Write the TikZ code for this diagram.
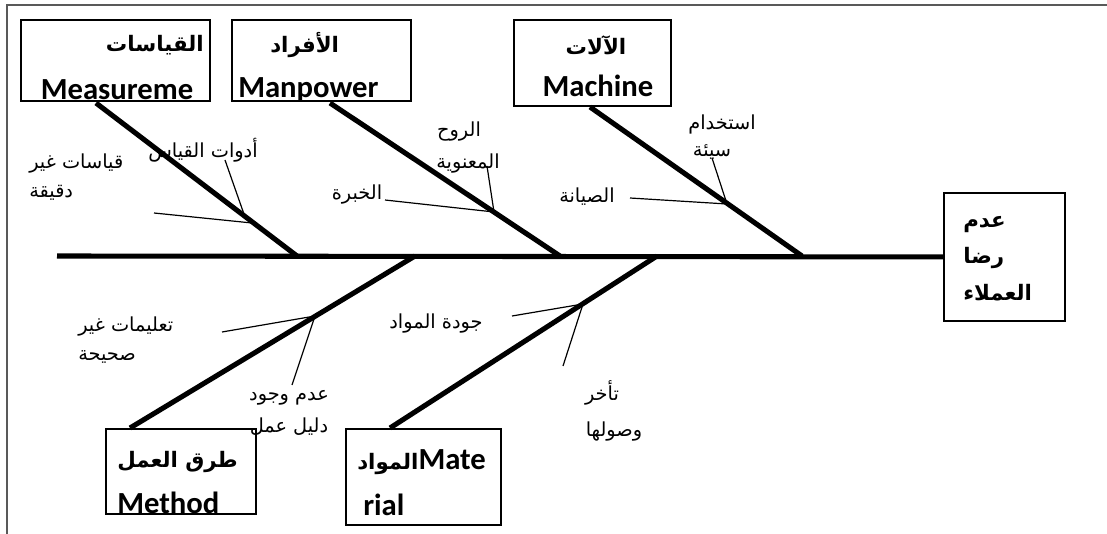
\documentclass[tikz,border=0pt]{standalone}
\usepackage{fontspec}
\setmainfont{Liberation Sans}
\newfontfamily\arabicfont[Script=Arabic]{DejaVu Sans}
\newfontfamily\latinfont{Carlito}
\TeXXeTstate=1
\newcommand{\ar}[1]{{\arabicfont\beginR #1\endR}}

\begin{document}
\begin{tikzpicture}[x=0.75pt,y=-0.75pt,
    box/.style={draw,line width=1.4pt,inner sep=0pt,anchor=north west},
    bone/.style={line width=3.8pt},
    twig/.style={line width=0.9pt},
    lbl/.style={font=\fontsize{14.5}{16}\selectfont,inner sep=0pt},
    head/.style={font=\fontsize{16}{18}\selectfont\bfseries,inner sep=0pt},
    en/.style={font=\fontsize{23}{26}\latinfont\bfseries,inner sep=0pt}]
    \useasboundingbox (0,0) rectangle (1107,534);
    \draw[line width=1.4pt,black!65] (7,534) -- (7,5) -- (1107,5);

    % boxes
    \node[box,minimum width=141.75pt,minimum height=60.75pt] (meas) at (20,19) {};
    \node[box,minimum width=134.25pt,minimum height=60.75pt] (man) at (231,19) {};
    \node[box,minimum width=117.75pt,minimum height=64.5pt] (mach) at (513,19) {};
    \node[box,minimum width=90.75pt,minimum height=96pt] (effect) at (943,192) {};
    \node[box,minimum width=112.5pt,minimum height=63.75pt] (meth) at (105,428) {};
    \node[box,minimum width=116.25pt,minimum height=72pt] (mat) at (345,428) {};

    % box texts
    \node[head,anchor=east] (measar) at (204,45) {\ar{القياسات}};
    \node[head,anchor=west] (manar) at (270,45) {\ar{الأفراد}};
    \node[head] (machar) at (596,45) {\ar{الآلات}};
    \node[en] (machen) at (598,86) {Machine};
    \begin{scope}
        \clip (meas.south west) rectangle (man.north east);
        \node[en] (measen) at (117,90) {Measureme};
        \node[en,anchor=west] (manen) at (238,90) {Manpower};
    \end{scope}
    \node[head,anchor=west] (effa) at (963,225) {\ar{عدم}};
    \node[head,anchor=west] (effb) at (963,258) {\ar{رضا}};
    \node[head,anchor=west] (effc) at (963,293) {\ar{العملاء}};
    \node[head,anchor=west] (methar) at (117,462) {\ar{طرق العمل}};
    \begin{scope}
        \clip (meth.south west) rectangle (meth.north east);
        \node[en,anchor=west] (methen) at (117,503) {Method};
    \end{scope}
    \node[en,anchor=west] (matar) at (357,462) {{\arabicfont\fontsize{16}{18}\selectfont\beginR المواد\endR}Mate};
    \node[en,anchor=west] (maten) at (363,505) {rial};

    % spine and bones
    \coordinate (tail) at (57,256);
    \coordinate (j1) at (297,256); \coordinate (j2) at (560,256);
    \coordinate (j3) at (802,256); \coordinate (j4) at (415,256);
    \coordinate (j5) at (657,256);
    \coordinate (b1) at (96,103); \coordinate (b2) at (330,103);
    \coordinate (b3) at (590,107); \coordinate (b4) at (130,428);
    \coordinate (b5) at (390,428);
    \draw[bone] (tail) -- (effect.west);
    \draw[bone] (b1) -- (j1); \draw[bone] (b2) -- (j2); \draw[bone] (b3) -- (j3);
    \draw[bone] (b4) -- (j4); \draw[bone] (b5) -- (j5);

    % causes
    \node[lbl] (tools) at (203,150) {\ar{أدوات القياس}};
    \node[lbl,anchor=west] (inacc) at (29,164) {\ar{قياسات غير}};
    \node[lbl,anchor=west] (inaccb) at (29,193) {\ar{دقيقة}};
    \node[lbl] (morale) at (459,132) {\ar{الروح}};
    \node[lbl] (moraleb) at (468,164) {\ar{المعنوية}};
    \node[lbl] (exper) at (357,195) {\ar{الخبرة}};
    \node[lbl] (misuse) at (722,124) {\ar{استخدام}};
    \node[lbl] (misuseb) at (712,152) {\ar{سيئة}};
    \node[lbl] (maint) at (587,197) {\ar{الصيانة}};
    \node[lbl,anchor=west] (instr) at (78,327) {\ar{تعليمات غير}};
    \node[lbl,anchor=west] (instrb) at (78,357) {\ar{صحيحة}};
    \node[lbl] (guide) at (289,398) {\ar{عدم وجود}};
    \node[lbl] (guideb) at (289,427) {\ar{دليل عمل}};
    \node[lbl] (qual) at (436,324) {\ar{جودة المواد}};
    \node[lbl] (late) at (602,393) {\ar{تأخر}};
    \node[lbl] (lateb) at (614,432) {\ar{وصولها}};

    \coordinate (k1) at (245,217); \coordinate (k2) at (252,223);
    \coordinate (k3) at (494,212); \coordinate (k4) at (727,204);
    \coordinate (k5) at (315,316); \coordinate (k6) at (583,304);
    \coordinate (e1) at (225,160); \coordinate (e2) at (154,213);
    \coordinate (e3) at (487,166); \coordinate (e4) at (385,200);
    \coordinate (e5) at (712,158); \coordinate (e6) at (630,198);
    \coordinate (e7) at (222,332); \coordinate (e8) at (292,385);
    \coordinate (e9) at (512,316); \coordinate (e10) at (563,366);
    \draw[twig] (e1) -- (k1); \draw[twig] (e2) -- (k2);
    \draw[twig] (e3) -- (k3); \draw[twig] (e4) -- (k3);
    \draw[twig] (e5) -- (k4); \draw[twig] (e6) -- (k4);
    \draw[twig] (e7) -- (k5); \draw[twig] (e8) -- (k5);
    \draw[twig] (e9) -- (k6); \draw[twig] (e10) -- (k6);
\end{tikzpicture}
\end{document}
